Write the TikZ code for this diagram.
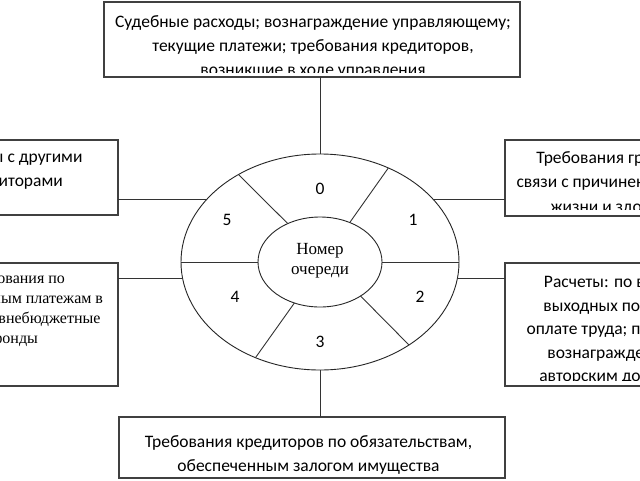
\documentclass[tikz,border=0pt]{standalone}
\usepackage{fontspec}
\setmainfont{Carlito}
\newfontfamily\seriff{Liberation Serif}
\usetikzlibrary{shapes.geometric}
\begin{document}
\begin{tikzpicture}[x=1pt,y=-1pt,
  box/.style={draw=black!75, line width=1.2pt, rectangle, inner sep=0pt, outer sep=0pt},
  conn/.style={draw=black!80, line width=0.9pt},
  ring/.style={ellipse, draw=black!85, line width=0.9pt, inner sep=0pt, outer sep=0pt},
  txt/.style={align=center, inner sep=0pt, text=black, font=\fontsize{17.5}{24}\selectfont},
  sertxt/.style={align=center, inner sep=0pt, text=black, font=\seriff\fontsize{16}{20}\selectfont},
  num/.style={inner sep=0pt, text=black, font=\fontsize{17.5}{20}\selectfont}]
\useasboundingbox (0,0) rectangle (640,480);
\fill[white] (0,0) rectangle (640,480);

% boxes
\node[box, minimum width=416pt, minimum height=75pt] (top) at (312,39.5) {};
\node[box, minimum width=198pt, minimum height=75pt] (lt) at (19,177.5) {};
\node[box, minimum width=198pt, minimum height=123pt] (lb) at (19,324.5) {};
\node[box, minimum width=215pt, minimum height=76pt] (rt) at (612.5,178) {};
\node[box, minimum width=215pt, minimum height=123pt] (rb) at (612.5,324.5) {};
\node[box, minimum width=386pt, minimum height=61pt] (bot) at (312,447.5) {};

% ellipses
\node[ring, minimum width=278pt, minimum height=216pt] (outer) at (320,262) {};
\node[ring, minimum width=124pt, minimum height=90pt] (inner) at (320,262) {};

% dividers
\draw[conn] (inner.east) -- (outer.east);
\draw[conn] (inner.west) -- (outer.west);
\draw[conn] (inner.130) -- (outer.133);
\draw[conn] (inner.53) -- (outer.54);
\draw[conn] (inner.320) -- (outer.317);
\draw[conn] (inner.238) -- (outer.236);

% connectors
\draw[conn] (top.south -| outer.north) -- (outer.north);
\draw[conn] (outer.south) -- (outer.south |- bot.north);
\draw[conn] (outer.151) -- (outer.151 -| lt.east);
\draw[conn] (outer.187) -- (outer.187 -| lb.east);
\draw[conn] (outer.29) -- (outer.29 -| rt.west);
\draw[conn] (outer.353) -- (outer.353 -| rb.west);

% texts (clipped inside their boxes, as in the reference)
\begin{scope}
\clip (top.north west) rectangle ([yshift=4.5pt]top.south east);
\node[txt] (ttop) at (313,46.5) {Судебные расходы; вознаграждение управляющему;\\ текущие платежи; требования кредиторов,\\ возникшие в ходе управления};
\end{scope}
\begin{scope}
\clip (lt.north west) rectangle (lt.south east);
\node[txt] (tlt) at (13,170) {Расчеты с другими\\ кредиторами};
\end{scope}
\begin{scope}
\clip (lb.north west) rectangle (lb.south east);
\node[sertxt] (tlb) at (15,309) {Требования по\\ обязательным платежам в\\ бюджет и внебюджетные\\ фонды};
\end{scope}
\begin{scope}
\clip (rt.north west) rectangle ([yshift=7pt]rt.south east);
\node[txt, font=\fontsize{17.5}{24.5}\selectfont] (trt) at (620,183) {Требования граждан в\\ связи с причинением вреда\\ жизни и здоровью};
\end{scope}
\begin{scope}
\clip (rb.north west) rectangle ([yshift=5.5pt]rb.south east);
\node[txt, font=\fontsize{17.5}{23.5}\selectfont] (trb) at (621,330.5) {Расчеты: по выплате\\ выходных пособий и\\ оплате труда; по выплате\\ вознаграждений по\\ авторским договорам};
\end{scope}
\node[txt] (tbot) at (308.5,455) {Требования кредиторов по обязательствам,\\ обеспеченным залогом имущества};

% centre
\node[align=center, inner sep=0pt, text=black, font=\seriff\fontsize{17}{19.5}\selectfont] (tc) at (320,260.5) {Номер\\ очереди};

% numbers
\node[num] (n0) at (320,189) {0};
\node[num] (n1) at (413,220) {1};
\node[num] (n2) at (420,297) {2};
\node[num] (n3) at (320,342) {3};
\node[num] (n4) at (235,297) {4};
\node[num] (n5) at (227,220) {5};
\end{tikzpicture}
\end{document}
